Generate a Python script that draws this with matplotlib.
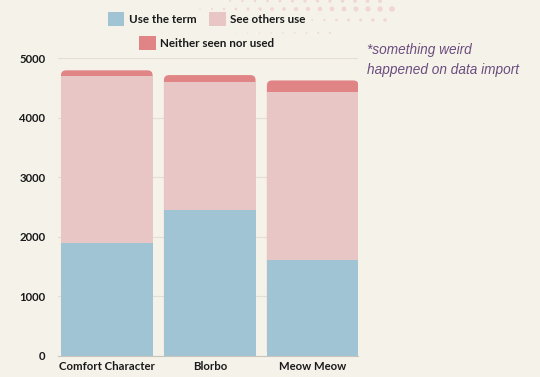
import numpy as np
import matplotlib
matplotlib.use('Agg')
import matplotlib.pyplot as plt
from matplotlib.patches import FancyBboxPatch, Patch

# data
terms = ['Comfort Character', 'Blorbo', 'Meow Meow']
use_term = [1900, 2450, 1620]
see_others = [2800, 2150, 2810]
neither = [100, 120, 200]

series_names = ['Use the term', 'See others use', 'Neither seen nor used']
series_colors = ['#a0c4d3', '#e9c6c6', '#e08485']

bg = '#f5f2ea'
plt.rcParams['font.family'] = ['Lato', 'DejaVu Sans']

fig = plt.figure(figsize=(5.4, 3.77), dpi=100, facecolor=bg)
ax = fig.add_axes([0.107, 0.056, 0.556, 0.789])
ax.set_facecolor(bg)

x = np.arange(len(terms))
width = 0.89
use_term = np.array(use_term)
see_others = np.array(see_others)
neither = np.array(neither)
totals = use_term + see_others + neither

# rounded top: full stack height in red with rounded corners, the rest drawn over it
radius = 0.05
aspect = 1680
for xi, tot in zip(x, totals):
	box = FancyBboxPatch((xi - width / 2, 0), width, tot,
		boxstyle='round,pad=0,rounding_size=%f' % radius,
		mutation_aspect=aspect, facecolor=series_colors[2], edgecolor='none', zorder=2)
	ax.add_patch(box)
ax.bar(x, see_others, width, bottom=use_term, color=series_colors[1], zorder=3)
ax.bar(x, use_term, width, color=series_colors[0], zorder=3)

ax.set_xlim(-0.476, 2.44)
ax.set_ylim(0, 5000)
ax.set_yticks([0, 1000, 2000, 3000, 4000, 5000])
ax.set_xticks(x)
ax.set_xticklabels(terms)
for lab in ax.get_xticklabels() + ax.get_yticklabels():
	lab.set_fontweight('bold')
	lab.set_fontsize(8.2)
	lab.set_color('#1a1a1a')
ax.tick_params(axis='both', length=0)
ax.tick_params(axis='y', pad=9)
ax.tick_params(axis='x', pad=4)
ax.yaxis.grid(True, color='#e3dfd7', linewidth=0.8, zorder=0)
ax.set_axisbelow(True)
for side in ['top', 'right', 'left']:
	ax.spines[side].set_visible(False)
ax.spines['bottom'].set_color('#c9c5bd')
ax.spines['bottom'].set_linewidth(0.8)
ax.spines['bottom'].set_zorder(4)

# decorative dots, top right
for ypix, x0, x1, n, s0, s1 in [(1, 230, 380, 13, 2, 8), (9, 200, 392, 17, 1, 16), (20, 300, 385, 8, 1, 6), (33, 236, 330, 9, 0.5, 2)]:
	xs = np.linspace(x0, x1, n) / 540
	ys = np.full(n, 1 - ypix / 377)
	ax.scatter(xs, ys, s=np.linspace(s0, s1, n), color='#f0d6d7', edgecolors='none',
		transform=fig.transFigure, clip_on=False, zorder=0)

handles = [Patch(facecolor=c, edgecolor='none') for c in series_colors]
leg1 = fig.legend(handles[:2], series_names[:2], loc='center', bbox_to_anchor=(0.383, 0.95), ncol=2,
	frameon=False, handlelength=1.4, handleheight=1.4, handletextpad=0.4, columnspacing=1.1,
	prop={'weight': 'bold', 'size': 8.4})
leg2 = fig.legend(handles[2:], series_names[2:], loc='center', bbox_to_anchor=(0.383, 0.886),
	frameon=False, handlelength=1.4, handleheight=1.4, handletextpad=0.4,
	prop={'weight': 'bold', 'size': 8.4})
for leg in (leg1, leg2):
	for t in leg.get_texts():
		t.set_color('#1a1a1a')

fig.text(0.679, 0.841, '*something weird\nhappened on data import', fontsize=9.8, style='italic',
	color='#6b4c7e', family=['Liberation Sans', 'DejaVu Sans'], va='center', ha='left', linespacing=1.5)

fig.savefig('out.png', dpi=100, facecolor=bg)
